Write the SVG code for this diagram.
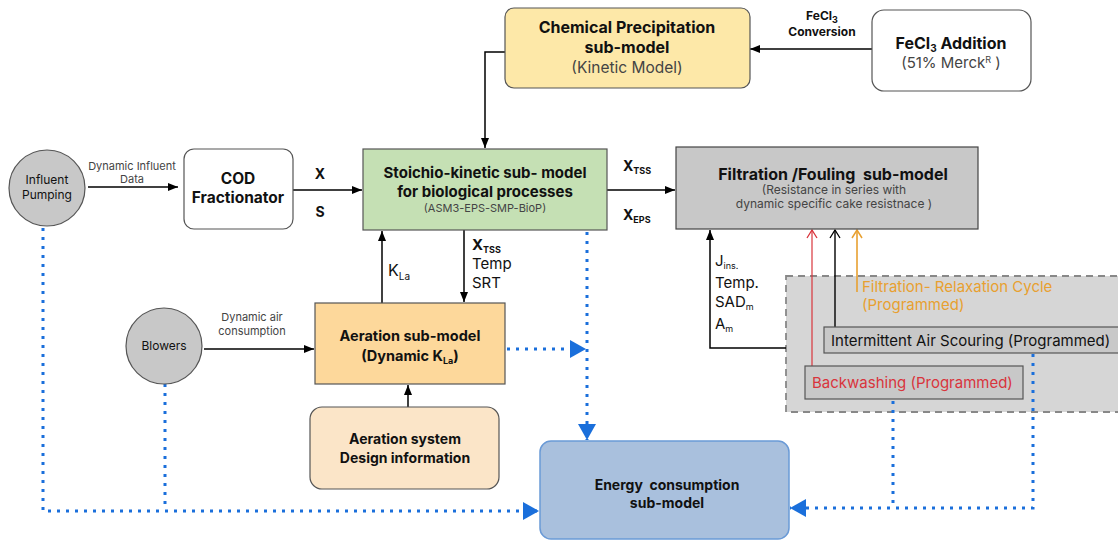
<svg xmlns="http://www.w3.org/2000/svg" width="1118" height="543" viewBox="0 0 1118 543">
  <style>
    text { font-family: Inter, "Noto Sans", "Liberation Sans", sans-serif; fill: #111; white-space: pre; }
    .b { font-weight: 700; }
    .t16 { font-size: 16px; }
    .t15 { font-size: 15px; }
    .t14 { font-size: 14px; }
    .t12 { font-size: 12px; }
    .t11 { font-size: 11px; }
    .grey { fill: #444; }
    .box { stroke: #555; stroke-width: 1.2; }
    .flow { fill: none; stroke: #000; stroke-width: 1.5; }
    .dot { fill: none; stroke: #1a6fdb; stroke-width: 3; stroke-dasharray: 3 6; }
  </style>
  <defs>
    <marker id="ah" markerUnits="userSpaceOnUse" markerWidth="10" markerHeight="10" refX="10" refY="5" orient="auto">
      <path d="M0,1 L10,5 L0,9 z" fill="#000"/>
    </marker>
    <marker id="ahBlue" markerUnits="userSpaceOnUse" markerWidth="16" markerHeight="18" refX="16" refY="9" orient="auto">
      <path d="M0,0 L16,9 L0,18 z" fill="#1a6fdb"/>
    </marker>
    <marker id="openRed" markerUnits="userSpaceOnUse" markerWidth="10" markerHeight="12" refX="9" refY="6" orient="auto">
      <path d="M1,1 L9,6 L1,11" fill="none" stroke="#d9343c" stroke-width="1.3"/>
    </marker>
    <marker id="openBlack" markerUnits="userSpaceOnUse" markerWidth="10" markerHeight="12" refX="9" refY="6" orient="auto">
      <path d="M1,1 L9,6 L1,11" fill="none" stroke="#000" stroke-width="1.3"/>
    </marker>
    <marker id="openOrange" markerUnits="userSpaceOnUse" markerWidth="10" markerHeight="12" refX="9" refY="6" orient="auto">
      <path d="M1,1 L9,6 L1,11" fill="none" stroke="#e8a030" stroke-width="1.5"/>
    </marker>
  </defs>

  <!-- programmed operation panel -->
  <g id="programmed-panel">
    <rect x="786" y="276" width="340" height="136" fill="#d6d6d6" stroke="#888" stroke-width="1.8" stroke-dasharray="7 5"/>
  </g>

  <!-- connectors -->
  <g id="connectors">
    <!-- FeCl3 conversion -->
    <path class="flow" d="M872,49 L750,49" marker-end="url(#ah)"/>
    <text class="b t12" x="822" y="20" text-anchor="middle">FeCl<tspan font-size="9" dy="3">3</tspan></text>
    <text class="b t12" x="822" y="36" text-anchor="middle">Conversion</text>
    <!-- precipitation to stoichio -->
    <path class="flow" d="M505,52 L485,52 L485,148" marker-end="url(#ah)"/>
    <!-- influent data -->
    <path class="flow" d="M88,187 L178,187" marker-end="url(#ah)"/>
    <text class="t11 grey" x="132" y="170" text-anchor="middle">Dynamic Influent</text>
    <text class="t11 grey" x="132" y="183" text-anchor="middle">Data</text>
    <!-- COD to stoichio -->
    <path class="flow" d="M293,190 L362,190" marker-end="url(#ah)"/>
    <text class="b t14" x="320" y="179" text-anchor="middle">X</text>
    <text class="b t14" x="320" y="217" text-anchor="middle">S</text>
    <!-- stoichio to filtration -->
    <path class="flow" d="M607,190 L675,190" marker-end="url(#ah)"/>
    <text class="b t14" x="623" y="171">X<tspan font-size="9" dy="3">TSS</tspan></text>
    <text class="b t14" x="623" y="220">X<tspan font-size="9" dy="3">EPS</tspan></text>
    <!-- KLa up -->
    <path class="flow" d="M382,303 L382,231" marker-end="url(#ah)"/>
    <text class="t16" x="388" y="276">K<tspan font-size="10" dy="4">La</tspan></text>
    <!-- XTSS/Temp/SRT down -->
    <path class="flow" d="M464,230 L464,302" marker-end="url(#ah)"/>
    <text class="b t15" x="472" y="250">X<tspan font-size="9" dy="3">TSS</tspan></text>
    <text class="t15" x="472" y="269">Temp</text>
    <text class="t15" x="472" y="288">SRT</text>
    <!-- blowers to aeration -->
    <path class="flow" d="M204,349 L314,349" marker-end="url(#ah)"/>
    <text class="t11 grey" x="252" y="321" text-anchor="middle">Dynamic air</text>
    <text class="t11 grey" x="252" y="335" text-anchor="middle">consumption</text>
    <!-- design info to aeration -->
    <path class="flow" d="M408,407 L408,385" marker-end="url(#ah)"/>
    <!-- filtration inputs -->
    <path class="flow" d="M786,348 L710,348 L710,230" marker-end="url(#ah)"/>
    <text class="t15" x="715" y="266">J<tspan font-size="9" dy="3">ins.</tspan></text>
    <text class="t15" x="715" y="288">Temp.</text>
    <text class="t15" x="715" y="307">SAD<tspan font-size="9" dy="3">m</tspan></text>
    <text class="t15" x="715" y="329">A<tspan font-size="9" dy="3">m</tspan></text>
    <path d="M812,366 L812,230" fill="none" stroke="#d9343c" stroke-width="1.2" marker-end="url(#openRed)"/>
    <path d="M835,327 L835,230" fill="none" stroke="#000" stroke-width="1.4" marker-end="url(#openBlack)"/>
    <path d="M857,292 L857,230" fill="none" stroke="#e8a030" stroke-width="1.6" marker-end="url(#openOrange)"/>

    <!-- energy flows -->
    <path class="dot" d="M587,232 L587,440" marker-end="url(#ahBlue)"/>
    <path class="dot" d="M507,349 L586,349" marker-end="url(#ahBlue)"/>
    <path class="dot" d="M43,228 L43,511 L539,511" marker-end="url(#ahBlue)"/>
    <path class="dot" d="M165,384 L165,510"/>
    <path class="dot" d="M1033,354 L1033,508 L790,508" marker-end="url(#ahBlue)"/>
    <path class="dot" d="M893,392 L893,506"/>
  </g>

  <g id="chemical-precipitation">
    <rect class="box" x="505" y="8" width="245" height="80" rx="9" fill="#fde8a8"/>
    <text class="b t16" x="627" y="33" text-anchor="middle">Chemical Precipitation</text>
    <text class="b t16" x="627" y="53" text-anchor="middle">sub-model</text>
    <text class="grey" x="627" y="73" text-anchor="middle" font-size="15.5">(Kinetic Model)</text>
  </g>

  <g id="fecl3-addition">
    <rect class="box" x="872" y="10" width="159" height="81" rx="12" fill="#fff"/>
    <text class="b t16" x="951" y="49" text-anchor="middle">FeCl<tspan font-size="10" dy="3">3</tspan><tspan dy="-3"> Addition</tspan></text>
    <text class="t15 grey" x="951" y="68" text-anchor="middle">(51% Merck<tspan font-size="9" dy="-5">R</tspan><tspan dy="5"> )</tspan></text>
  </g>

  <g id="influent-pumping">
    <circle cx="47" cy="188" r="38" fill="#c8c8c8" stroke="#555" stroke-width="1.2"/>
    <text class="t12" x="47" y="184" text-anchor="middle">Influent</text>
    <text class="t12" x="47" y="199" text-anchor="middle">Pumping</text>
  </g>

  <g id="cod-fractionator">
    <rect class="box" x="184" y="149" width="109" height="80" rx="10" fill="#fff"/>
    <text class="b" x="238" y="184" text-anchor="middle" font-size="15.5">COD</text>
    <text class="b" x="238" y="203" text-anchor="middle" font-size="15.5">Fractionator</text>
  </g>

  <g id="stoichio-kinetic">
    <rect class="box" x="363" y="149" width="244" height="81" fill="#c5e0b4"/>
    <text class="b t15" x="485" y="178" text-anchor="middle">Stoichio-kinetic sub- model</text>
    <text class="b t15" x="485" y="197" text-anchor="middle">for biological processes</text>
    <text class="t11 grey" x="485" y="212" text-anchor="middle">(ASM3-EPS-SMP-BioP)</text>
  </g>

  <g id="filtration-fouling">
    <rect x="676" y="147" width="302" height="82" fill="#c8c8c8" stroke="#444" stroke-width="1.2"/>
    <text class="b t16" x="833" y="180" text-anchor="middle">Filtration /Fouling  sub-model</text>
    <text class="t12 grey" x="834" y="194" text-anchor="middle">(Resistance in series with</text>
    <text class="t12 grey" x="834" y="208" text-anchor="middle">dynamic specific cake resistnace )</text>
  </g>

  <g id="filtration-relaxation">
    <text class="t15" x="862" y="292" style="fill:#e8a030">Filtration- Relaxation Cycle</text>
    <text class="t15" x="862" y="310" style="fill:#e8a030">(Programmed)</text>
  </g>

  <g id="air-scouring">
    <rect x="824" y="327" width="300" height="26" fill="#c8c8c8" stroke="#555" stroke-width="1.2"/>
    <text class="t15" x="831" y="346">Intermittent Air Scouring (Programmed)</text>
  </g>

  <g id="backwashing">
    <rect x="805" y="366" width="218" height="33" fill="#c8c8c8" stroke="#555" stroke-width="1.2"/>
    <text class="t15" x="812" y="388" style="fill:#d9343c">Backwashing (Programmed)</text>
  </g>

  <g id="blowers">
    <circle cx="164" cy="346" r="38" fill="#c8c8c8" stroke="#555" stroke-width="1.2"/>
    <text class="t12" x="164" y="350" text-anchor="middle">Blowers</text>
  </g>

  <g id="aeration">
    <rect class="box" x="315" y="303" width="190" height="81" fill="#fdd89b"/>
    <text class="b" x="410" y="341" text-anchor="middle" font-size="14.5">Aeration sub-model</text>
    <text class="b" x="410" y="361" text-anchor="middle" font-size="14.5">(Dynamic K<tspan font-size="9" dy="3">La</tspan><tspan dy="-3">)</tspan></text>
  </g>

  <g id="aeration-design">
    <rect class="box" x="310" y="407" width="189" height="82" rx="12" fill="#fbe5c8"/>
    <text class="b t14" x="405" y="444" text-anchor="middle">Aeration system</text>
    <text class="b t14" x="405" y="463" text-anchor="middle">Design information</text>
  </g>

  <g id="energy-consumption">
    <rect x="540" y="441" width="249" height="98" rx="11" fill="#a9c0dd" stroke="#6a9ad6" stroke-width="1.5"/>
    <text class="b t14" x="667" y="490" text-anchor="middle">Energy  consumption</text>
    <text class="b t14" x="667" y="508" text-anchor="middle">sub-model</text>
  </g>
</svg>
